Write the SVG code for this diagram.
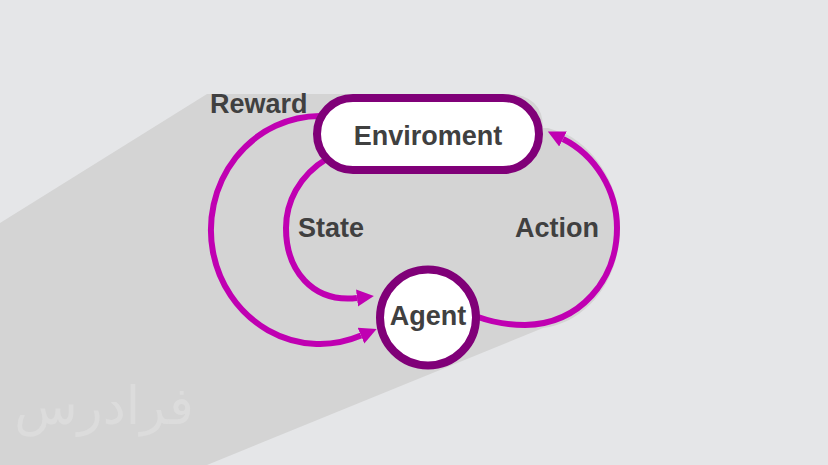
<svg xmlns="http://www.w3.org/2000/svg" width="828" height="465" viewBox="0 0 828 465">
  <defs>
    <style>
      .bg { fill: #e5e6e8; }
      .shadow { fill: #d4d4d4; }
      .edge { fill: none; stroke: #c000b2; stroke-width: 6; marker-end: url(#arrow); }
      .node { fill: #ffffff; stroke: #800078; stroke-width: 8; }
      .label { font-family: "Liberation Sans", Arial, sans-serif; font-weight: bold; font-size: 27px; fill: #404040; }
      .mid { text-anchor: middle; }
      .wm { font-family: "DejaVu Sans", "Noto Sans", sans-serif; font-size: 52px; fill: #dcdcdc; }
    </style>
    <marker id="arrow" markerUnits="userSpaceOnUse" markerWidth="20" markerHeight="20" viewBox="0 -10 20 20" refX="0" refY="0" orient="auto">
      <path d="M0,-8.5 L17,0 L0,8.5 Z" fill="#c000b2"/>
    </marker>
  </defs>

  <rect class="bg" x="0" y="0" width="828" height="465"/>
  <path class="shadow" d="M0,223 L207,94 L505,94 Q543,94 543,128 L548,128 L566,134 C600,152 620,190 620,228 C620,282 585,323 543,328 L207,465 L0,465 Z"/>

  <text class="wm" x="104" y="424" text-anchor="middle" direction="rtl">فرادرس</text>

  <g id="connectors">
    <path id="reward-edge" class="edge" d="M320,116 A109,114 0 1 0 361,335.6"/>
    <path id="state-edge" class="edge" d="M328,158 C298,176 286,203 286,228 C286,270 312,303 357,298"/>
    <path id="action-edge" class="edge" d="M478,317 C492,322 508,325 525,325 C580,324 617,280 617,228 C617,190 595,155 563,139"/>
    <text class="label" x="210" y="113">Reward</text>
    <text class="label" x="298" y="237">State</text>
    <text class="label" x="515" y="237">Action</text>
  </g>

  <g id="environment">
    <rect class="node" x="317" y="98" width="222" height="72" rx="36" ry="36"/>
    <text class="label mid" x="428" y="145">Enviroment</text>
  </g>

  <g id="agent">
    <circle class="node" cx="428" cy="317.5" r="48"/>
    <text class="label mid" x="428" y="325">Agent</text>
  </g>
</svg>
